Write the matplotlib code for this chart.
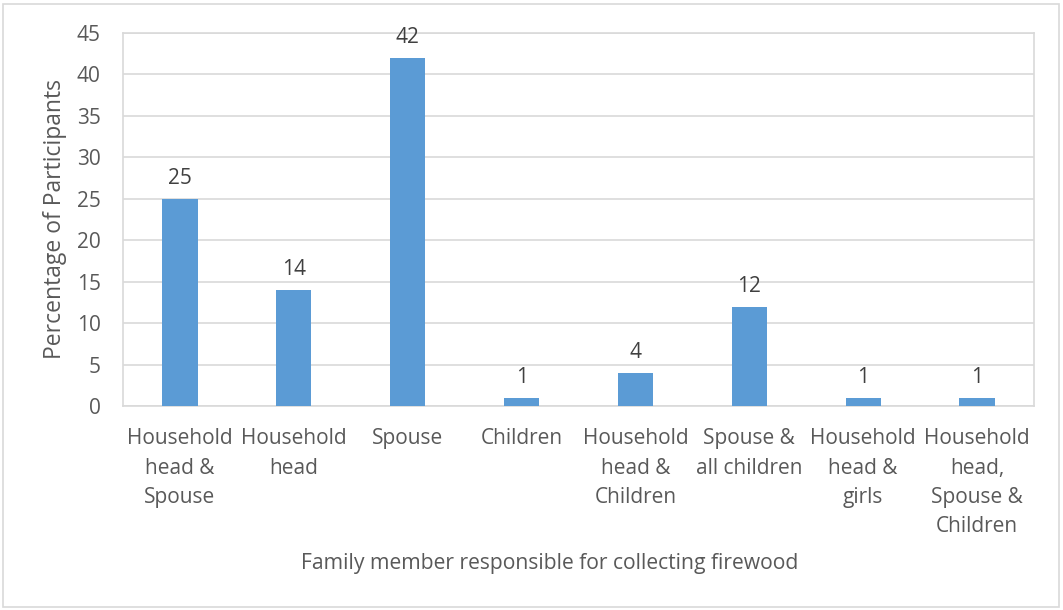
import numpy as np
import matplotlib.pyplot as plt
from matplotlib.patches import Rectangle

# data
categories = ['Household\nhead &\nSpouse', 'Household\nhead', 'Spouse', 'Children',
              'Household\nhead &\nChildren', 'Spouse &\nall children', 'Household\nhead &\ngirls',
              'Household\nhead,\nSpouse &\nChildren']
values = [25, 14, 42, 1, 4, 12, 1, 1]
yticks = [0, 5, 10, 15, 20, 25, 30, 35, 40, 45]

plt.rcParams['font.family'] = ['Open Sans', 'DejaVu Sans']
text_col = '#595959'
grid_col = '#d9d9d9'
bar_col = '#5b9bd5'

W, H = 1063, 610
fig = plt.figure(figsize=(W / 100, H / 100), dpi=100)

# outer chart border
fig.patches.append(Rectangle((3 / W, 3 / H), (W - 7) / W, (H - 7) / H,
                             transform=fig.transFigure, fill=False,
                             edgecolor='#d9d9d9', linewidth=1.2))

left, right, top, bottom = 123, 1034, 33, 406
ax = fig.add_axes([left / W, 1 - bottom / H, (right - left) / W, (bottom - top) / H])

x = np.arange(len(categories))
bars = ax.bar(x, values, width=0.31, color=bar_col, zorder=3)
ax.set_xlim(-0.5, len(categories) - 0.5)
ax.set_ylim(0, 45)
ax.set_yticks(yticks)
ax.set_yticklabels([str(v) for v in yticks])
ax.set_xticks(x)
ax.set_xticklabels(categories, linespacing=1.52)
ax.tick_params(axis='both', length=0, labelsize=15, colors=text_col)
ax.tick_params(axis='y', pad=16)
ax.tick_params(axis='x', pad=16)
for lbl in ax.get_xticklabels():
    lbl.set_verticalalignment('top')

ax.grid(axis='y', color=grid_col, linewidth=1.2, zorder=0)
for s in ax.spines.values():
    s.set_color(grid_col)
    s.set_linewidth(1.2)

for b, v in zip(bars, values):
    ax.annotate(str(v), (b.get_x() + b.get_width() / 2, v), xytext=(0, 7),
                textcoords='offset points', ha='center', va='bottom',
                fontsize=15, color='#404040')

fig.text(55 / W, 1 - 219 / H, 'Percentage of Participants', rotation=90,
         ha='center', va='center', fontsize=16.5, color=text_col)
fig.text(550 / W, 1 - 563 / H, 'Family member responsible for collecting firewood',
         ha='center', va='center', fontsize=15.2, color=text_col)

fig.savefig('out.png', dpi=100)
